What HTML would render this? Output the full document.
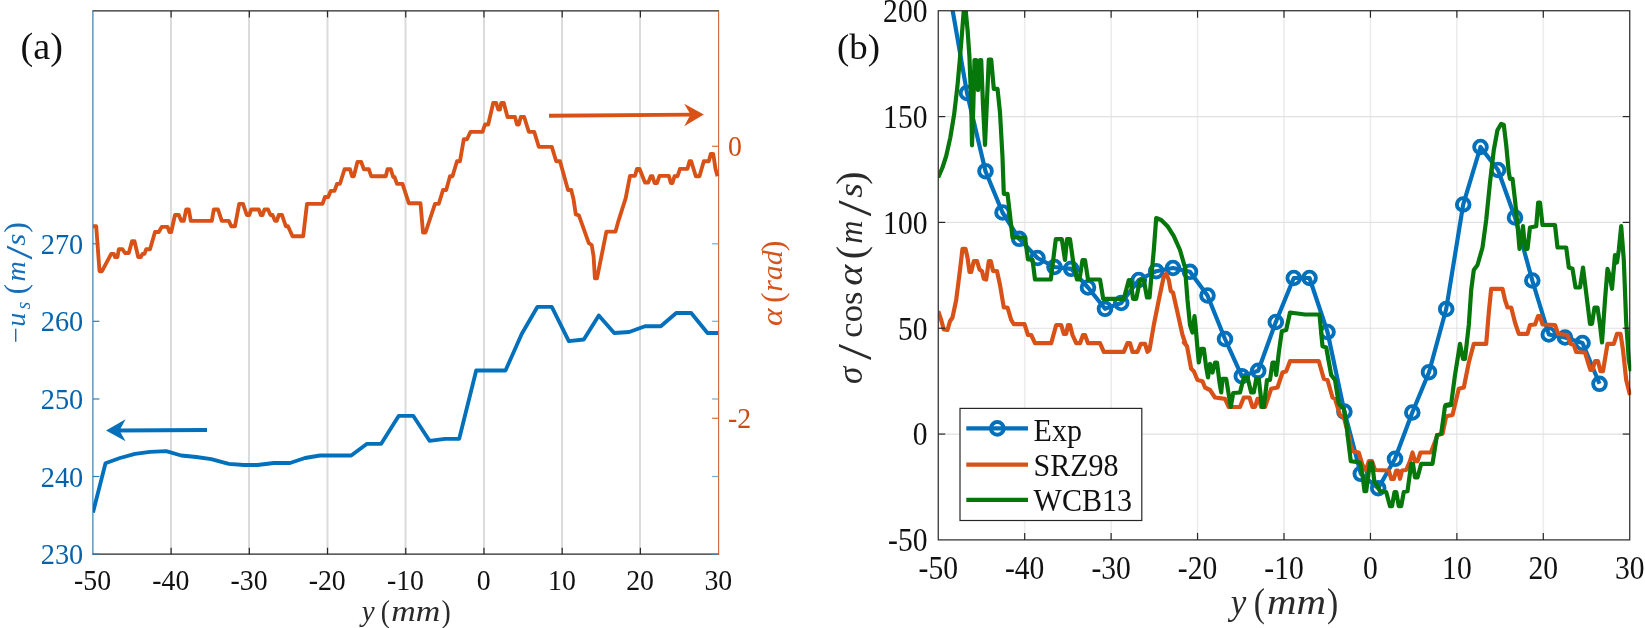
<!DOCTYPE html>
<html lang="en"><head><meta charset="utf-8"><title>Figure</title>
<style>html,body{margin:0;padding:0;background:#fff;overflow:hidden}svg{display:block;filter:blur(0.45px)}text{font-family:"Liberation Serif","DejaVu Serif",serif}</style></head><body>
<svg width="1645" height="628" viewBox="0 0 1645 628">
<rect width="1645" height="628" fill="#fff"/>
<defs><clipPath id="cl"><rect x="92.9" y="10.9" width="626.7" height="543.3"/></clipPath><clipPath id="cr"><rect x="938.25" y="10.75" width="693" height="529.15"/></clipPath></defs>
<g stroke="#dbdbdb" stroke-width="2">
<line x1="171.00" y1="10.9" x2="171.00" y2="554.2"/>
<line x1="249.00" y1="10.9" x2="249.00" y2="554.2"/>
<line x1="327.50" y1="10.9" x2="327.50" y2="554.2"/>
<line x1="405.50" y1="10.9" x2="405.50" y2="554.2"/>
<line x1="484.00" y1="10.9" x2="484.00" y2="554.2"/>
<line x1="562.00" y1="10.9" x2="562.00" y2="554.2"/>
<line x1="640.00" y1="10.9" x2="640.00" y2="554.2"/>
</g>
<g stroke="#262626" stroke-width="1.2" fill="none">
<line x1="92.4" y1="10.9" x2="719.1" y2="10.9"/>
<line x1="92.4" y1="554.2" x2="719.1" y2="554.2"/>
<line x1="171.11" y1="10.9" x2="171.11" y2="17.4"/>
<line x1="171.11" y1="554.2" x2="171.11" y2="547.7"/>
<line x1="249.33" y1="10.9" x2="249.33" y2="17.4"/>
<line x1="249.33" y1="554.2" x2="249.33" y2="547.7"/>
<line x1="327.54" y1="10.9" x2="327.54" y2="17.4"/>
<line x1="327.54" y1="554.2" x2="327.54" y2="547.7"/>
<line x1="405.75" y1="10.9" x2="405.75" y2="17.4"/>
<line x1="405.75" y1="554.2" x2="405.75" y2="547.7"/>
<line x1="483.96" y1="10.9" x2="483.96" y2="17.4"/>
<line x1="483.96" y1="554.2" x2="483.96" y2="547.7"/>
<line x1="562.18" y1="10.9" x2="562.18" y2="17.4"/>
<line x1="562.18" y1="554.2" x2="562.18" y2="547.7"/>
<line x1="640.39" y1="10.9" x2="640.39" y2="17.4"/>
<line x1="640.39" y1="554.2" x2="640.39" y2="547.7"/>
</g>
<g stroke="#2a79b3" stroke-width="1.15">
<line x1="92.9" y1="10.9" x2="92.9" y2="554.8"/>
<line x1="92.9" y1="554.2" x2="99.4" y2="554.2"/>
<line x1="92.9" y1="476.5" x2="99.4" y2="476.5"/>
<line x1="92.9" y1="399" x2="99.4" y2="399"/>
<line x1="92.9" y1="321.3" x2="99.4" y2="321.3"/>
<line x1="92.9" y1="243.8" x2="99.4" y2="243.8"/>
</g>
<g stroke="#3a93cf" stroke-width="1.2" opacity="0.75">
<line x1="718.6" y1="554.2" x2="712.1" y2="554.2"/>
<line x1="718.6" y1="476.5" x2="712.1" y2="476.5"/>
<line x1="718.6" y1="399" x2="712.1" y2="399"/>
<line x1="718.6" y1="321.3" x2="712.1" y2="321.3"/>
<line x1="718.6" y1="243.8" x2="712.1" y2="243.8"/>
</g>
<g stroke="#d4683a" stroke-width="1.15">
<line x1="718.6" y1="10.9" x2="718.6" y2="554.8"/>
<line x1="718.6" y1="146.25" x2="712.1" y2="146.25"/>
<line x1="718.6" y1="418.25" x2="712.1" y2="418.25"/>
</g>
<g clip-path="url(#cl)" fill="none" stroke-linejoin="round" stroke-linecap="butt" stroke-width="3.85">
<path d="M93.0,512.5 L105.5,463.2 L120.0,458.0 L135.0,453.8 L150.0,451.8 L166.2,451.2 L181.2,455.5 L196.2,457.0 L211.2,459.2 L228.8,463.8 L243.8,465.0 L257.5,465.0 L273.8,463.0 L290.0,463.0 L305.0,458.0 L320.0,455.5 L351.2,455.5 L367.0,443.8 L381.2,443.8 L398.8,415.8 L413.2,415.8 L429.5,440.8 L445.0,438.8 L459.2,438.8 L476.2,370.5 L505.5,370.5 L521.8,333.8 L537.5,306.8 L551.8,306.8 L568.8,341.2 L583.8,339.5 L598.8,315.5 L614.2,333.0 L629.2,332.0 L645.0,326.2 L660.8,326.2 L676.2,313.0 L691.2,313.0 L707.5,333.0 L718.0,333.0" stroke="#0270bb"/>
<path d="M93.0,226.2 L96.2,226.2 L99.5,271.2 L102.0,271.2 L111.2,253.8 L113.8,253.8 L115.0,257.0 L117.5,257.0 L118.8,249.2 L122.5,249.2 L125.0,253.0 L128.8,253.0 L132.0,241.2 L134.5,241.2 L138.2,257.0 L140.8,257.0 L142.5,253.8 L144.5,253.8 L146.2,249.2 L150.0,249.2 L155.0,232.0 L158.8,232.0 L161.8,226.8 L167.5,226.8 L169.5,232.0 L171.2,232.0 L175.0,215.0 L178.8,215.0 L181.2,220.8 L183.8,220.8 L186.2,209.5 L188.8,209.5 L190.8,220.8 L211.8,220.8 L213.8,209.5 L218.0,209.5 L221.8,220.8 L228.8,220.8 L231.2,226.2 L235.0,226.2 L239.2,203.8 L243.0,203.8 L246.8,215.0 L249.2,215.0 L251.2,209.5 L258.8,209.5 L260.8,215.0 L262.5,215.0 L264.5,209.5 L268.0,209.5 L270.5,215.0 L272.5,215.0 L275.0,220.8 L276.8,220.8 L278.8,215.0 L282.0,215.0 L285.8,226.2 L288.0,226.2 L292.5,236.2 L303.2,236.2 L307.0,203.8 L322.5,203.8 L325.0,197.0 L328.2,197.0 L330.8,190.8 L334.5,190.8 L337.0,183.8 L340.0,183.8 L344.5,169.2 L350.0,169.2 L352.0,176.2 L353.8,176.2 L357.5,161.8 L361.2,161.8 L363.8,169.2 L368.8,169.2 L371.2,176.2 L385.8,176.2 L387.5,169.2 L390.8,169.2 L393.2,177.0 L394.5,177.0 L397.0,183.8 L402.5,183.8 L408.8,203.2 L420.5,203.2 L423.0,232.5 L425.5,232.5 L435.0,203.8 L438.8,203.8 L443.0,190.0 L446.2,190.0 L450.0,176.2 L452.5,176.2 L457.0,161.2 L460.0,161.2 L463.8,139.2 L467.0,139.2 L470.5,131.8 L482.5,131.8 L485.0,124.5 L488.2,124.5 L493.2,103.0 L496.2,103.0 L498.2,109.5 L500.0,109.5 L501.2,103.0 L503.8,103.0 L507.5,117.0 L515.0,117.0 L517.0,124.5 L518.8,124.5 L520.8,117.0 L524.2,117.0 L528.8,131.8 L534.2,131.8 L538.8,146.8 L551.8,146.8 L556.2,161.2 L560.0,161.2 L568.0,190.0 L571.2,190.0 L573.5,199.1 L575.8,214.4 L578.9,215.4 L588.8,243.1 L591.7,245.0 L593.6,256.4 L594.9,278.4 L597.0,278.4 L606.4,231.6 L615.5,231.6 L618.4,221.1 L625.7,198.2 L630.0,175.8 L635.0,175.8 L637.0,168.8 L639.5,168.8 L645.0,182.5 L648.2,182.5 L650.8,176.2 L652.5,176.2 L654.5,183.0 L657.0,183.0 L659.5,175.8 L668.8,175.8 L670.8,183.0 L672.5,183.0 L674.5,176.2 L677.5,176.2 L680.0,168.8 L687.5,168.8 L689.5,161.2 L691.2,161.2 L695.8,176.2 L699.5,176.2 L703.8,161.2 L708.8,161.2 L710.8,153.8 L713.2,153.8 L715.5,168.8 L717.5,176.2" stroke="#D85218"/>
</g>
<g>
<line x1="549" y1="115.8" x2="693" y2="114.6" stroke="#D85218" stroke-width="3.9"/>
<path d="M703.8,114.6 L684.2,103.8 L690.5,114.6 L684.2,126.2 Z" fill="#D85218"/>
<line x1="207" y1="430" x2="117" y2="430.5" stroke="#0270bb" stroke-width="3.9"/>
<path d="M106.0,430.5 L125.6,419.3 L119.5,430.5 L125.6,441.2 Z" fill="#0270bb"/>
</g>
<text transform="translate(83.30,564.30) scale(1.02,1.09)" font-size="27.8" text-anchor="end" fill="#0563ae">230</text>
<text transform="translate(83.30,486.60) scale(1.02,1.09)" font-size="27.8" text-anchor="end" fill="#0563ae">240</text>
<text transform="translate(83.30,409.10) scale(1.02,1.09)" font-size="27.8" text-anchor="end" fill="#0563ae">250</text>
<text transform="translate(83.30,331.40) scale(1.02,1.09)" font-size="27.8" text-anchor="end" fill="#0563ae">260</text>
<text transform="translate(83.30,253.90) scale(1.02,1.09)" font-size="27.8" text-anchor="end" fill="#0563ae">270</text>
<text transform="translate(728.00,156.35) scale(1,1.09)" font-size="27.8" text-anchor="start" fill="#cf4a10">0</text>
<text transform="translate(728.00,428.35) scale(1,1.09)" font-size="27.8" text-anchor="start" fill="#cf4a10">-2</text>
<text transform="translate(92.60,590.00) scale(1,1.09)" font-size="27.8" text-anchor="middle" fill="#111">-50</text>
<text transform="translate(170.81,590.00) scale(1,1.09)" font-size="27.8" text-anchor="middle" fill="#111">-40</text>
<text transform="translate(249.03,590.00) scale(1,1.09)" font-size="27.8" text-anchor="middle" fill="#111">-30</text>
<text transform="translate(327.24,590.00) scale(1,1.09)" font-size="27.8" text-anchor="middle" fill="#111">-20</text>
<text transform="translate(405.45,590.00) scale(1,1.09)" font-size="27.8" text-anchor="middle" fill="#111">-10</text>
<text transform="translate(483.66,590.00) scale(1,1.09)" font-size="27.8" text-anchor="middle" fill="#111">0</text>
<text transform="translate(561.88,590.00) scale(1,1.09)" font-size="27.8" text-anchor="middle" fill="#111">10</text>
<text transform="translate(640.09,590.00) scale(1,1.09)" font-size="27.8" text-anchor="middle" fill="#111">20</text>
<text transform="translate(718.30,590.00) scale(1,1.09)" font-size="27.8" text-anchor="middle" fill="#111">30</text>
<text transform="translate(20.50,59.00) scale(1,1)" font-size="38.2" text-anchor="start" fill="#111">(a)</text>
<text transform="translate(0,620.80)" text-anchor="middle" font-size="29" fill="#2a2a2a"><tspan x="368.20" y="0.00" font-style="italic">y</tspan><tspan font-size="0.5"> </tspan><tspan x="385.40" y="1.20" font-size="32" textLength="9.2" lengthAdjust="spacingAndGlyphs">(</tspan><tspan x="415.80" y="0.00" font-style="italic" textLength="49" lengthAdjust="spacingAndGlyphs">mm</tspan><tspan x="446.20" y="1.20" font-size="32" textLength="9.2" lengthAdjust="spacingAndGlyphs">)</tspan></text>
<text transform="translate(24.80,0) rotate(-90)" text-anchor="middle" font-size="28" fill="#146fb8"><tspan x="-335.10" y="0.00">−</tspan><tspan x="-319.70" y="0.00" font-style="italic">u</tspan><tspan x="-305.50" y="4.80" font-size="20" font-style="italic">s</tspan><tspan font-size="0.5"> </tspan><tspan x="-289.20" y="1.60" font-size="32">(</tspan><tspan x="-271.50" y="0.00" font-style="italic">m</tspan><tspan x="-252.50" y="6.80" font-size="38" textLength="14" lengthAdjust="spacingAndGlyphs">/</tspan><tspan x="-239.70" y="0.00" font-size="28" font-style="italic" textLength="12.2" lengthAdjust="spacingAndGlyphs">s</tspan><tspan x="-227.50" y="1.60" font-size="32">)</tspan></text>
<text transform="translate(781.50,0) rotate(-90)" text-anchor="middle" font-size="29" fill="#d4541c"><tspan x="-317.10" y="0.00" font-size="29" font-style="italic" textLength="17.5" lengthAdjust="spacingAndGlyphs">α</tspan><tspan font-size="0.5"> </tspan><tspan x="-297.60" y="1.60" font-size="32">(</tspan><tspan x="-271.00" y="0.00" font-style="italic" textLength="41.5" lengthAdjust="spacingAndGlyphs">rad</tspan><tspan x="-245.80" y="1.60" font-size="32">)</tspan></text>
<g stroke="#ececec" stroke-width="1.6">
<line x1="1024.69" y1="10.75" x2="1024.69" y2="539.9"/>
<line x1="1111.12" y1="10.75" x2="1111.12" y2="539.9"/>
<line x1="1197.56" y1="10.75" x2="1197.56" y2="539.9"/>
<line x1="1284.00" y1="10.75" x2="1284.00" y2="539.9"/>
<line x1="1370.44" y1="10.75" x2="1370.44" y2="539.9"/>
<line x1="1456.88" y1="10.75" x2="1456.88" y2="539.9"/>
<line x1="1543.31" y1="10.75" x2="1543.31" y2="539.9"/>
</g>
<g stroke="#e1e1e1" stroke-width="1.15">
<line x1="938.25" y1="116.58" x2="1629.75" y2="116.58"/>
<line x1="938.25" y1="222.41" x2="1629.75" y2="222.41"/>
<line x1="938.25" y1="328.24" x2="1629.75" y2="328.24"/>
<line x1="938.25" y1="434.07" x2="1629.75" y2="434.07"/>
</g>
<g clip-path="url(#cr)" fill="none" stroke-linejoin="round" stroke-width="4.2">
<path d="M949.2,-9.0 L952.8,11.4 L967.0,93.0 L985.5,171.2 L1002.5,212.5 L1019.2,238.8 L1037.5,258.0 L1054.5,267.0 L1071.2,268.8 L1088.0,287.5 L1105.0,308.8 L1121.2,303.0 L1138.8,280.0 L1156.2,271.2 L1173.0,268.0 L1190.0,271.8 L1207.5,295.5 L1225.0,339.0 L1241.8,376.2 L1258.2,370.8 L1275.8,322.0 L1293.8,278.0 L1309.5,278.0 L1327.5,332.0 L1344.4,411.6 L1360.8,473.8 L1378.2,488.2 L1395.0,458.8 L1412.3,412.5 L1429.0,372.2 L1446.2,309.0 L1463.2,204.5 L1480.5,147.0 L1498.0,170.0 L1515.0,217.5 L1532.3,280.5 L1548.8,334.5 L1565.0,337.5 L1582.5,343.0 L1599.5,383.8" stroke="#0270bb"/>
<g stroke="#0270bb" stroke-width="3.9" fill="none">
<circle cx="967.0" cy="93.0" r="6.35"/>
<circle cx="985.5" cy="171.2" r="6.35"/>
<circle cx="1002.5" cy="212.5" r="6.35"/>
<circle cx="1019.2" cy="238.8" r="6.35"/>
<circle cx="1037.5" cy="258.0" r="6.35"/>
<circle cx="1054.5" cy="267.0" r="6.35"/>
<circle cx="1071.2" cy="268.8" r="6.35"/>
<circle cx="1088.0" cy="287.5" r="6.35"/>
<circle cx="1105.0" cy="308.8" r="6.35"/>
<circle cx="1121.2" cy="303.0" r="6.35"/>
<circle cx="1138.8" cy="280.0" r="6.35"/>
<circle cx="1156.2" cy="271.2" r="6.35"/>
<circle cx="1173.0" cy="268.0" r="6.35"/>
<circle cx="1190.0" cy="271.8" r="6.35"/>
<circle cx="1207.5" cy="295.5" r="6.35"/>
<circle cx="1225.0" cy="339.0" r="6.35"/>
<circle cx="1241.8" cy="376.2" r="6.35"/>
<circle cx="1258.2" cy="370.8" r="6.35"/>
<circle cx="1275.8" cy="322.0" r="6.35"/>
<circle cx="1293.8" cy="278.0" r="6.35"/>
<circle cx="1309.5" cy="278.0" r="6.35"/>
<circle cx="1327.5" cy="332.0" r="6.35"/>
<circle cx="1344.4" cy="411.6" r="6.35"/>
<circle cx="1360.8" cy="473.8" r="6.35"/>
<circle cx="1378.2" cy="488.2" r="6.35"/>
<circle cx="1395.0" cy="458.8" r="6.35"/>
<circle cx="1412.3" cy="412.5" r="6.35"/>
<circle cx="1429.0" cy="372.2" r="6.35"/>
<circle cx="1446.2" cy="309.0" r="6.35"/>
<circle cx="1463.2" cy="204.5" r="6.35"/>
<circle cx="1480.5" cy="147.0" r="6.35"/>
<circle cx="1498.0" cy="170.0" r="6.35"/>
<circle cx="1515.0" cy="217.5" r="6.35"/>
<circle cx="1532.3" cy="280.5" r="6.35"/>
<circle cx="1548.8" cy="334.5" r="6.35"/>
<circle cx="1565.0" cy="337.5" r="6.35"/>
<circle cx="1582.5" cy="343.0" r="6.35"/>
<circle cx="1599.5" cy="383.8" r="6.35"/>
</g>
<path d="M938.2,311.2 L941.2,320.0 L943.8,329.5 L947.5,330.0 L950.0,321.2 L952.5,317.5 L956.2,300.0 L960.0,270.0 L962.5,248.8 L965.5,248.8 L967.5,257.5 L969.5,272.0 L971.2,272.0 L973.8,261.2 L977.0,261.2 L979.5,269.5 L982.0,271.2 L983.8,278.8 L986.2,279.5 L988.8,261.2 L990.8,261.2 L993.0,270.8 L997.0,271.2 L1000.0,285.0 L1003.8,307.5 L1007.5,307.5 L1011.2,320.0 L1013.8,324.2 L1024.5,324.2 L1028.0,335.0 L1031.2,335.0 L1035.0,343.2 L1051.2,343.2 L1056.2,325.0 L1061.2,325.0 L1063.8,333.8 L1066.2,333.8 L1068.0,325.0 L1070.0,325.0 L1072.5,335.0 L1076.2,343.2 L1080.0,343.2 L1083.0,335.0 L1085.0,335.0 L1088.0,343.2 L1100.0,343.2 L1103.8,351.8 L1123.8,351.8 L1127.5,343.2 L1130.0,343.2 L1132.5,351.8 L1137.5,351.8 L1140.8,343.8 L1145.0,343.8 L1147.5,351.8 L1149.5,350.0 L1153.8,325.0 L1158.8,300.0 L1163.8,276.2 L1166.2,273.8 L1168.8,280.0 L1170.8,291.2 L1173.0,292.5 L1177.5,312.5 L1182.5,335.0 L1185.5,343.8 L1183.8,342.5 L1187.0,346.2 L1191.2,368.8 L1193.8,371.2 L1197.5,380.0 L1202.5,381.2 L1205.0,387.5 L1210.0,390.0 L1215.0,397.5 L1225.0,398.8 L1228.8,407.0 L1240.0,407.0 L1243.8,397.5 L1249.5,397.5 L1252.5,407.0 L1255.0,407.0 L1257.5,398.8 L1258.8,398.8 L1261.2,407.0 L1265.0,407.0 L1271.2,388.8 L1277.5,387.5 L1282.5,372.5 L1286.2,371.2 L1290.0,361.2 L1318.8,361.2 L1323.8,378.8 L1327.5,380.0 L1332.5,397.5 L1335.0,398.8 L1340.0,415.0 L1343.8,417.5 L1350.0,440.0 L1347.5,435.0 L1352.5,451.2 L1358.8,452.5 L1362.5,465.0 L1366.2,470.0 L1368.8,461.2 L1372.0,461.2 L1375.0,470.0 L1388.8,470.5 L1391.2,478.8 L1393.8,478.8 L1396.2,470.5 L1398.0,470.5 L1400.0,478.8 L1402.0,470.5 L1406.2,470.0 L1410.0,461.2 L1412.5,452.5 L1415.0,461.2 L1417.5,461.2 L1420.5,452.5 L1431.2,452.5 L1431.2,451.8 L1437.5,435.0 L1442.5,433.8 L1446.2,416.2 L1452.5,415.0 L1458.8,388.8 L1463.8,387.5 L1468.8,362.5 L1468.8,362.5 L1473.8,343.8 L1486.2,343.8 L1488.8,312.5 L1491.2,288.8 L1502.5,288.8 L1505.0,300.0 L1507.5,307.5 L1511.2,307.5 L1515.0,322.5 L1518.8,333.8 L1527.5,333.8 L1530.0,325.0 L1535.0,324.5 L1538.0,316.2 L1540.0,316.2 L1542.5,324.5 L1555.0,325.0 L1558.0,333.8 L1567.5,335.0 L1570.5,343.8 L1573.8,345.0 L1576.2,352.0 L1585.0,352.5 L1588.0,362.5 L1590.5,370.0 L1592.5,370.0 L1595.0,361.2 L1598.0,361.2 L1600.5,371.2 L1603.0,371.2 L1607.5,343.8 L1613.8,343.8 L1617.0,333.8 L1620.5,333.8 L1623.0,350.0 L1626.2,380.0 L1630.0,395.0" stroke="#D85218"/>
<path d="M938.2,177.5 L942.5,167.5 L946.2,156.0 L950.3,137.6 L954.1,114.7 L957.4,86.6 L959.7,61.1 L961.8,35.6 L963.6,12.6 L964.3,0.0 L965.3,0.0 L965.9,12.6 L967.6,30.5 L969.4,56.0 L970.7,89.2 L971.5,117.2 L972.0,145.3 L973.3,107.0 L974.5,60.0 L976.2,60.0 L978.0,90.0 L980.0,60.0 L981.2,60.0 L983.0,105.0 L985.0,145.0 L988.8,59.5 L991.2,59.5 L993.8,88.8 L997.5,88.8 L1000.0,112.5 L1002.5,157.0 L1003.8,193.8 L1007.5,193.8 L1010.0,215.0 L1012.5,237.5 L1025.0,237.5 L1028.0,259.5 L1032.5,259.5 L1035.0,279.5 L1050.8,279.5 L1055.8,239.2 L1061.8,239.2 L1065.0,260.0 L1067.0,239.2 L1070.0,239.2 L1073.8,266.2 L1077.0,279.5 L1079.5,279.5 L1082.5,260.0 L1085.0,260.0 L1088.0,279.5 L1100.0,279.5 L1103.2,298.8 L1123.8,298.8 L1128.8,280.0 L1130.5,280.0 L1133.0,298.8 L1136.2,298.8 L1140.0,280.0 L1143.8,280.0 L1147.0,297.5 L1149.5,297.5 L1153.8,250.0 L1156.2,218.0 L1161.2,220.0 L1167.5,226.2 L1173.8,236.2 L1180.0,250.0 L1185.0,267.5 L1187.5,300.0 L1190.0,325.0 L1192.5,332.5 L1194.5,316.2 L1195.5,325.0 L1197.5,348.8 L1198.8,362.5 L1201.2,348.8 L1203.8,348.8 L1206.2,367.5 L1208.0,377.5 L1210.0,363.8 L1212.5,372.5 L1215.0,362.5 L1217.0,362.5 L1219.5,382.5 L1221.2,392.5 L1222.5,378.8 L1226.2,378.8 L1228.8,395.0 L1230.8,407.0 L1233.2,393.0 L1240.0,392.5 L1243.8,377.5 L1247.5,377.5 L1251.2,392.5 L1253.8,392.5 L1256.2,378.8 L1258.8,378.8 L1262.0,407.0 L1263.8,407.0 L1267.0,380.0 L1270.0,380.0 L1272.5,362.5 L1274.5,362.5 L1276.2,375.0 L1278.8,352.5 L1281.8,331.2 L1286.2,330.0 L1290.0,312.5 L1305.0,314.5 L1319.5,314.5 L1322.5,346.2 L1326.2,347.5 L1331.2,375.0 L1335.0,380.0 L1338.8,403.8 L1343.8,408.8 L1346.2,422.5 L1348.8,445.0 L1350.8,461.2 L1360.0,462.5 L1362.5,475.0 L1364.5,491.2 L1366.2,491.2 L1370.0,462.5 L1372.0,462.5 L1374.5,482.5 L1376.2,483.8 L1380.0,491.2 L1386.2,492.0 L1390.0,506.2 L1392.0,506.2 L1394.5,492.0 L1396.2,492.0 L1398.8,506.2 L1401.2,506.2 L1403.8,492.0 L1407.5,491.2 L1411.2,463.8 L1413.0,463.8 L1415.0,477.5 L1417.5,477.5 L1421.2,463.8 L1432.5,463.8 L1437.0,435.0 L1441.2,433.8 L1445.0,406.2 L1451.2,405.0 L1445.5,405.0 L1451.2,403.8 L1455.0,375.0 L1460.0,343.8 L1463.0,358.8 L1465.0,358.8 L1468.8,325.0 L1471.2,290.0 L1473.8,270.0 L1477.5,265.0 L1482.5,247.5 L1486.2,220.0 L1490.0,182.5 L1493.8,150.0 L1497.5,130.0 L1501.2,123.8 L1503.8,125.0 L1506.2,145.0 L1508.8,172.5 L1510.0,178.8 L1512.5,178.8 L1515.0,200.0 L1517.5,225.0 L1519.5,248.8 L1521.2,240.0 L1523.0,226.2 L1525.0,248.8 L1527.5,248.8 L1530.0,227.5 L1536.2,226.2 L1538.2,202.5 L1540.0,202.5 L1542.5,225.0 L1555.0,225.0 L1557.5,247.5 L1566.2,247.5 L1568.8,267.5 L1572.5,268.8 L1575.5,287.5 L1580.0,287.5 L1583.0,267.5 L1585.5,287.5 L1590.0,323.8 L1592.0,323.8 L1594.5,307.5 L1597.5,307.5 L1600.0,325.0 L1602.0,342.5 L1605.0,300.0 L1607.5,268.8 L1609.5,275.0 L1612.0,288.8 L1615.0,255.0 L1617.0,262.5 L1618.8,250.0 L1621.2,226.2 L1623.8,260.0 L1626.2,322.5 L1628.8,360.0 L1630.8,371.2" stroke="#06770a"/>
</g>
<g stroke="#262626" stroke-width="1.2" fill="none">
<rect x="938.25" y="10.75" width="691.5" height="529.15"/>
<line x1="1024.69" y1="10.75" x2="1024.69" y2="17.75"/>
<line x1="1024.69" y1="539.9" x2="1024.69" y2="532.9"/>
<line x1="1111.12" y1="10.75" x2="1111.12" y2="17.75"/>
<line x1="1111.12" y1="539.9" x2="1111.12" y2="532.9"/>
<line x1="1197.56" y1="10.75" x2="1197.56" y2="17.75"/>
<line x1="1197.56" y1="539.9" x2="1197.56" y2="532.9"/>
<line x1="1284.00" y1="10.75" x2="1284.00" y2="17.75"/>
<line x1="1284.00" y1="539.9" x2="1284.00" y2="532.9"/>
<line x1="1370.44" y1="10.75" x2="1370.44" y2="17.75"/>
<line x1="1370.44" y1="539.9" x2="1370.44" y2="532.9"/>
<line x1="1456.88" y1="10.75" x2="1456.88" y2="17.75"/>
<line x1="1456.88" y1="539.9" x2="1456.88" y2="532.9"/>
<line x1="1543.31" y1="10.75" x2="1543.31" y2="17.75"/>
<line x1="1543.31" y1="539.9" x2="1543.31" y2="532.9"/>
<line x1="938.25" y1="116.58" x2="945.25" y2="116.58"/>
<line x1="1629.75" y1="116.58" x2="1622.75" y2="116.58"/>
<line x1="938.25" y1="222.41" x2="945.25" y2="222.41"/>
<line x1="1629.75" y1="222.41" x2="1622.75" y2="222.41"/>
<line x1="938.25" y1="328.24" x2="945.25" y2="328.24"/>
<line x1="1629.75" y1="328.24" x2="1622.75" y2="328.24"/>
<line x1="938.25" y1="434.07" x2="945.25" y2="434.07"/>
<line x1="1629.75" y1="434.07" x2="1622.75" y2="434.07"/>
</g>
<text transform="translate(927.50,22.15) scale(1,1.13)" font-size="29.6" text-anchor="end" fill="#111">200</text>
<text transform="translate(927.50,127.98) scale(1,1.13)" font-size="29.6" text-anchor="end" fill="#111">150</text>
<text transform="translate(927.50,233.81) scale(1,1.13)" font-size="29.6" text-anchor="end" fill="#111">100</text>
<text transform="translate(927.50,339.64) scale(1,1.13)" font-size="29.6" text-anchor="end" fill="#111">50</text>
<text transform="translate(927.50,445.47) scale(1,1.13)" font-size="29.6" text-anchor="end" fill="#111">0</text>
<text transform="translate(927.50,551.30) scale(1,1.13)" font-size="29.6" text-anchor="end" fill="#111">-50</text>
<text transform="translate(938.25,579.30) scale(1,1.13)" font-size="29.6" text-anchor="middle" fill="#111">-50</text>
<text transform="translate(1024.69,579.30) scale(1,1.13)" font-size="29.6" text-anchor="middle" fill="#111">-40</text>
<text transform="translate(1111.12,579.30) scale(1,1.13)" font-size="29.6" text-anchor="middle" fill="#111">-30</text>
<text transform="translate(1197.56,579.30) scale(1,1.13)" font-size="29.6" text-anchor="middle" fill="#111">-20</text>
<text transform="translate(1284.00,579.30) scale(1,1.13)" font-size="29.6" text-anchor="middle" fill="#111">-10</text>
<text transform="translate(1370.44,579.30) scale(1,1.13)" font-size="29.6" text-anchor="middle" fill="#111">0</text>
<text transform="translate(1456.88,579.30) scale(1,1.13)" font-size="29.6" text-anchor="middle" fill="#111">10</text>
<text transform="translate(1543.31,579.30) scale(1,1.13)" font-size="29.6" text-anchor="middle" fill="#111">20</text>
<text transform="translate(1629.75,579.30) scale(1,1.13)" font-size="29.6" text-anchor="middle" fill="#111">30</text>
<text transform="translate(837.00,59.00) scale(1,1)" font-size="36.8" text-anchor="start" fill="#111">(b)</text>
<text transform="translate(0,614.30)" text-anchor="middle" font-size="35" fill="#2a2a2a"><tspan x="1238.50" y="0.00" font-style="italic">y</tspan><tspan font-size="0.5"> </tspan><tspan x="1259.40" y="2.00" font-size="39.5" textLength="11.2" lengthAdjust="spacingAndGlyphs">(</tspan><tspan x="1296.50" y="0.00" font-style="italic" textLength="59" lengthAdjust="spacingAndGlyphs">mm</tspan><tspan x="1332.50" y="2.00" font-size="39.5" textLength="11.2" lengthAdjust="spacingAndGlyphs">)</tspan></text>
<text transform="translate(862.40,0) rotate(-90)" text-anchor="middle" font-size="34" fill="#2a2a2a"><tspan x="-375.40" y="0.00" font-size="35" font-style="italic">σ</tspan><tspan font-size="0.5"> </tspan><tspan x="-352.00" y="8.50" font-size="48" textLength="16" lengthAdjust="spacingAndGlyphs">/</tspan><tspan font-size="0.5"> </tspan><tspan x="-314.60" y="0.00" font-size="34.5">cos</tspan><tspan font-size="0.5"> </tspan><tspan x="-275.30" y="0.00" font-size="35" font-style="italic" textLength="21" lengthAdjust="spacingAndGlyphs">α</tspan><tspan font-size="0.5"> </tspan><tspan x="-252.50" y="2.00" font-size="40">(</tspan><tspan x="-232.00" y="0.00" font-size="34" font-style="italic" textLength="23.3" lengthAdjust="spacingAndGlyphs">m</tspan><tspan x="-208.30" y="8.50" font-size="48" textLength="16" lengthAdjust="spacingAndGlyphs">/</tspan><tspan x="-190.40" y="0.00" font-size="34" font-style="italic" textLength="14.6" lengthAdjust="spacingAndGlyphs">s</tspan><tspan x="-178.10" y="2.00" font-size="40">)</tspan></text>
<rect x="960" y="408.4" width="181.8" height="112.1" fill="#fff" stroke="#262626" stroke-width="1.2"/>
<g stroke-width="4.2" fill="none">
<line x1="966.3" y1="428.4" x2="1028" y2="428.4" stroke="#0270bb"/>
<circle cx="997.3" cy="428.4" r="6.35" stroke="#0270bb" stroke-width="3.9"/>
<line x1="966.3" y1="464.6" x2="1028" y2="464.6" stroke="#D85218"/>
<line x1="966.3" y1="499.8" x2="1028" y2="499.8" stroke="#06770a"/>
</g>
<text transform="translate(1033.60,440.50) scale(1,1.08)" font-size="30" text-anchor="start" fill="#111">Exp</text>
<text transform="translate(1033.60,475.80) scale(1,1.08)" font-size="30" text-anchor="start" fill="#111">SRZ98</text>
<text transform="translate(1033.60,511.30) scale(1,1.08)" font-size="30" text-anchor="start" fill="#111">WCB13</text>
</svg></body></html>
